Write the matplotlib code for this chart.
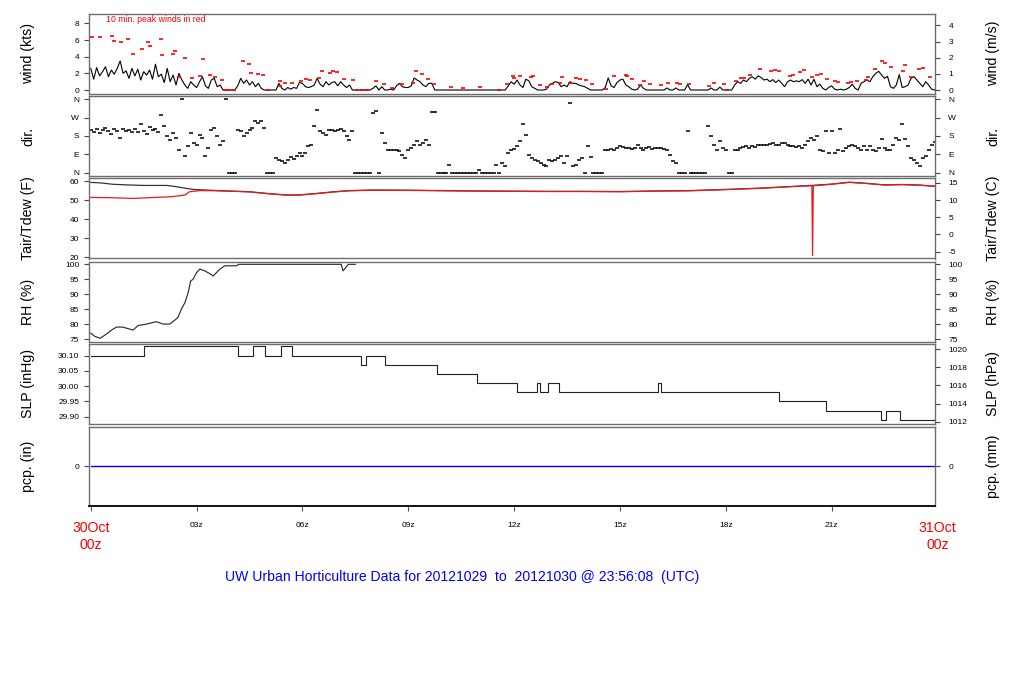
import numpy as np
import matplotlib.pyplot as plt

plt.rcParams['font.family'] = ['Liberation Sans', 'DejaVu Sans']
plt.rcParams['axes.unicode_minus'] = False

# ---- data (time in hours since 30Oct 00z) ----
# 5-minute mean wind (kts), 12 values per hour
wind_kts = [
    2.6, 1.3, 2.7, 1.7, 2.2, 2.8, 1.6, 2.4, 1.9, 2.6, 3.5, 2.0,
    2.3, 1.4, 2.6, 1.7, 2.5, 1.2, 2.2, 1.8, 2.4, 1.3, 3.1, 1.6,
    1.9, 0.9, 2.6, 1.0, 1.8, 0.6, 2.0, 1.2, 0.6, 0.2, 1.0, 0.6,
    0.3, 1.0, 1.6, 0.5, 0.2, 1.2, 1.4, 0.4, 0.6, 0.0, 0.0, 0.0,
    0.0, 0.0, 0.5, 1.4, 0.8, 1.2, 0.6, 1.0, 0.4, 0.8, 0.2, 0.0,
    0.0, 0.0, 0.0, 0.0, 0.8, 0.2, 0.0, 0.3, 0.1, 0.3, 0.2, 0.9,
    0.8, 0.4, 0.3, 0.4, 0.6, 1.4, 0.7, 0.4, 1.0, 0.6, 0.9, 1.0,
    0.5, 1.0, 0.6, 0.3, 0.6, 0.0, 0.0, 0.0, 0.0, 0.0, 0.0, 0.0,
    0.2, 0.5, 0.0, 0.4, 0.0, 0.0, 0.1, 0.0, 0.5, 0.8, 0.4, 0.3,
    0.3, 0.5, 1.45, 1.2, 1.0, 0.6, 0.4, 0.8, 0.8, 0.0, 0.0, 0.0,
    0.0, 0.0, 0.0, 0.0, 0.0, 0.0, 0.0, 0.0, 0.0, 0.0, 0.0, 0.0,
    0.0, 0.0, 0.0, 0.0, 0.0, 0.0, 0.0, 0.0, 0.0, 0.0, 0.5, 1.0,
    0.7, 1.2, 0.6, 0.3, 1.3, 1.1, 0.4, 0.2, 0.0, 0.0, 0.0, 0.1,
    0.6, 0.8, 1.0, 0.9, 0.4, 0.6, 0.4, 1.0, 0.8, 0.8, 0.6, 0.5,
    0.4, 0.2, 0.0, 0.0, 0.0, 0.0, 0.0, 0.3, 1.45, 0.5, 0.3, 0.9,
    1.2, 1.3, 0.6, 0.4, 0.1, 0.0, 0.1, 0.6, 0.2, 0.0, 0.0, 0.0,
    0.0, 0.0, 0.0, 0.0, 0.25, 0.0, 0.0, 0.25, 0.0, 0.0, 0.0, 0.65,
    0.0, 0.0, 0.0, 0.0, 0.0, 0.0, 0.0, 0.25, 0.0, 0.0, 0.35, 0.0,
    0.0, 0.0, 0.0, 0.6, 1.0, 0.8, 1.2, 1.0, 1.4, 1.6, 1.3, 1.7,
    1.5, 1.2, 1.3, 1.0, 1.25, 0.9, 1.2, 0.8, 0.4, 1.0, 1.2, 1.0,
    1.1, 1.0, 1.25, 0.8, 1.3, 0.6, 1.3, 0.4, 0.7, 0.2, 0.0, 0.3,
    0.5, 0.1, 0.0, 0.1, 0.0, 0.1, 0.3, 0.7, 0.2, 0.0, 0.8, 1.0,
    1.2, 1.0, 1.6, 2.0, 2.25, 1.8, 1.4, 1.65, 0.4, 0.2, 0.6, 1.85,
    0.3, 0.4, 0.6, 1.4, 1.6, 1.2, 0.8, 0.4, 1.0, 0.6, 0.1, 0.0,
]

# 5-minute wind direction (deg), 0 = calm / north
wind_dir = [
    208, 200, 214, 196, 210, 219, 203, 190, 212, 205, 170, 216,
    205, 210, 198, 212, 200, 240, 205, 190, 222, 208, 213, 200,
    283, 227, 178, 162, 194, 170, 113, 360, 81, 130, 194, 146,
    138, 186, 170, 81, 122, 211, 219, 178, 138, 154, 360, 0,
    0, 0, 211, 203, 178, 194, 211, 219, 251, 243, 251, 219,
    0, 0, 0, 73, 65, 57, 49, 65, 78, 70, 81, 97,
    81, 97, 130, 138, 227, 305, 203, 194, 186, 211, 211, 203,
    211, 214, 203, 178, 162, 203, 0, 0, 0, 0, 0, 0,
    292, 300, 0, 194, 146, 113, 113, 110, 110, 105, 89, 73,
    113, 122, 138, 154, 138, 146, 162, 138, 295, 295, 0, 0,
    0, 0, 40, 0, 0, 0, 0, 0, 0, 0, 0, 0,
    16, 0, 0, 0, 0, 0, 41, 0, 49, 32, 97, 113,
    116, 130, 154, 238, 186, 89, 73, 65, 57, 49, 41, 36,
    65, 57, 65, 73, 81, 49, 81, 340, 32, 41, 65, 73,
    0, 130, 78, 0, 0, 0, 0, 113, 113, 116, 113, 122,
    130, 127, 122, 122, 118, 122, 138, 122, 113, 122, 125, 118,
    122, 122, 122, 118, 113, 89, 57, 49, 0, 0, 0, 203,
    0, 0, 0, 0, 0, 0, 227, 178, 138, 113, 154, 122,
    113, 0, 0, 113, 110, 122, 127, 130, 122, 130, 127, 134,
    136, 138, 136, 143, 144, 138, 138, 144, 146, 134, 130, 130,
    127, 130, 122, 138, 154, 170, 162, 178, 113, 105, 206, 97,
    206, 97, 113, 214, 105, 122, 130, 138, 130, 122, 113, 130,
    113, 130, 110, 105, 122, 165, 122, 113, 110, 138, 170, 162,
    240, 165, 130, 73, 65, 49, 32, 73, 81, 113, 138, 150,
]

# 10-minute peak winds (kts)
peak_hr = [0.03, 0.26, 0.60, 0.67, 0.86, 1.05, 1.19, 1.45, 1.62, 1.67, 1.99, 2.01,
           2.32, 2.40, 2.50, 2.66, 2.86, 3.09, 3.18, 3.37, 3.51, 3.71, 3.80, 3.93,
           4.07, 4.31, 4.48, 4.54, 4.73, 4.87, 5.02, 5.36, 5.37, 5.50, 5.70, 5.95,
           6.10, 6.22, 6.46, 6.55, 6.78, 6.86, 6.97, 7.17, 7.43, 7.55, 7.69, 7.83,
           8.08, 8.31, 8.53, 8.82, 9.12, 9.21, 9.38, 9.55, 9.73, 10.20, 10.54, 11.03,
           11.56, 11.79, 11.96, 12.00, 12.16, 12.47, 12.54, 12.73, 12.92, 13.07, 13.30, 13.37,
           13.58, 13.75, 13.86, 14.03, 14.20, 14.60, 14.83, 15.17, 15.19, 15.34, 15.57, 15.68,
           15.85, 16.15, 16.36, 16.61, 16.70, 16.95, 17.51, 17.66, 17.95, 18.04, 18.29, 18.44,
           18.52, 18.70, 18.97, 19.27, 19.40, 19.50, 19.82, 19.91, 20.10, 20.21, 20.44, 20.58,
           20.71, 20.86, 21.09, 21.18, 21.46, 21.56, 21.71, 21.97, 22.03, 22.24, 22.43, 22.50,
           22.67, 23.01, 23.07, 23.26, 23.48, 23.60, 23.79]
peak_kts = [6.39, 6.39, 6.47, 5.86, 5.74, 6.14, 4.30, 4.94, 5.74, 5.34, 6.14, 4.18,
            4.30, 4.74, 1.53, 3.81, 1.41, 1.69, 3.69, 1.77, 1.53, 1.16, 0.0, 0.0,
            0.0, 3.45, 3.09, 2.01, 1.89, 1.77, 0.0, 1.04, 0.52, 0.80, 0.80, 1.04,
            1.37, 1.20, 1.41, 2.25, 2.01, 2.25, 2.13, 1.29, 1.16, 0.0, 0.0, 0.0,
            1.04, 0.76, 0.20, 0.76, 0.88, 2.33, 1.97, 1.29, 0.76, 0.32, 0.20, 0.32,
            0.04, 0.76, 1.65, 1.41, 1.65, 1.53, 1.65, 0.56, 0.32, 0.76, 0.88, 1.53,
            0.88, 1.41, 1.29, 1.16, 0.76, 0.08, 1.65, 1.85, 1.65, 1.29, 0.56, 1.04,
            0.76, 0.60, 0.80, 0.80, 0.68, 0.76, 0.44, 0.80, 0.76, 0.04, 1.04, 1.41,
            1.41, 1.85, 2.53, 2.25, 2.37, 2.25, 1.69, 1.81, 2.13, 2.37, 1.53, 1.77,
            1.89, 1.37, 1.04, 0.92, 0.80, 0.92, 1.04, 1.16, 1.53, 2.57, 3.45, 3.21,
            2.77, 2.25, 2.97, 1.53, 2.49, 2.61, 1.53]

# air temperature (F)
tair_hr = [0.0, 0.3, 0.63, 1.0, 1.5, 2.15, 2.3, 2.7, 2.9, 3.6, 4.5, 5.0, 5.55, 5.9,
           6.4, 6.9, 7.35, 8.0, 9.0, 10.0, 11.0, 12.0, 13.0, 14.0, 15.0, 16.0, 17.0,
           18.0, 19.0, 20.0, 20.5, 21.0, 21.5, 22.0, 22.5, 23.0, 23.5, 23.93]
tair_f = [59.3, 59.0, 58.3, 58.0, 57.7, 57.7, 57.4, 56.2, 55.6, 55.0, 54.4, 53.5, 52.7, 52.7,
          53.5, 54.4, 55.0, 55.3, 55.2, 55.0, 54.8, 54.7, 54.6, 54.6, 54.5, 54.8, 55.0,
          55.6, 56.3, 57.3, 57.8, 58.4, 59.4, 58.8, 58.0, 58.2, 57.9, 57.3]
# dew point (F)
tdew_hr = [0.0, 0.5, 1.2, 1.8, 2.3, 2.67, 2.8, 3.1, 3.6, 4.5, 5.0, 5.55, 5.9,
           6.4, 6.9, 7.35, 8.0, 9.0, 10.0, 11.0, 12.0, 13.0, 14.0, 15.0, 16.0, 17.0,
           18.0, 19.0, 20.0, 20.44, 20.46, 20.48, 21.0, 21.5, 22.0, 22.5, 23.0, 23.5, 23.93]
tdew_f = [51.4, 51.3, 50.9, 51.4, 51.8, 52.7, 54.4, 55.0, 54.9, 54.3, 53.4, 52.6, 52.6,
          53.4, 54.3, 54.9, 55.2, 55.1, 54.9, 54.7, 54.6, 54.5, 54.5, 54.4, 54.7, 54.9,
          55.5, 56.2, 57.2, 57.5, 21.0, 57.5, 58.3, 59.3, 58.7, 57.9, 58.1, 57.8, 57.2]

# relative humidity (%)
rh_hr = [0.0, 0.1, 0.2, 0.26, 0.45, 0.59, 0.73, 0.9, 1.2, 1.34, 1.58, 1.86, 2.05, 2.24,
         2.38, 2.47, 2.57, 2.67, 2.76, 2.83, 2.9, 3.0, 3.09, 3.23, 3.37, 3.47, 3.66, 3.8,
         4.13, 4.2, 7.1, 7.15, 7.2, 7.3, 7.5]
rh_pct = [77.0, 76.0, 75.5, 75.2, 76.7, 78.0, 79.0, 79.0, 78.0, 79.5, 80.0, 80.8, 80.0, 80.0,
          81.3, 82.2, 85.0, 87.2, 90.5, 94.4, 95.0, 97.2, 98.4, 97.8, 96.9, 96.1, 98.4, 99.5,
          99.5, 100.0, 100.0, 97.8, 98.5, 100.0, 100.0]

# sea level pressure (inHg), step changes
slp_hr = [0.0, 1.50, 4.18, 4.60, 4.93, 5.39, 5.71, 7.65, 7.80, 8.34, 9.82, 10.94, 12.09,
          12.65, 12.73, 12.95, 13.27, 16.09, 16.15, 19.52, 20.84, 22.40, 22.54, 22.94, 23.93]
slp_inhg = [30.10, 30.13, 30.10, 30.13, 30.10, 30.13, 30.10, 30.07, 30.10, 30.07, 30.04,
            30.01, 29.98, 30.01, 29.98, 30.01, 29.98, 30.01, 29.98, 29.95, 29.92, 29.89,
            29.92, 29.89, 29.89]

# precipitation (in)
pcp_hr = [0.0, 23.93]
pcp_in = [0.0, 0.0]

hour_ticks = [0, 3, 6, 9, 12, 15, 18, 21]
hour_labels = ['', '03z', '06z', '09z', '12z', '15z', '18z', '21z']

# ---- layout ----
W, H = 1024, 700
fig = plt.figure(figsize=(W / 100, H / 100), dpi=100)

x0, x1 = 89, 935
panels = [(13.5, 93.5), (96, 176), (178, 258.5), (261.7, 341.7), (344, 423.5), (426.5, 506)]
frame_col = '#6e6e6e'
tick_fs = 6.0
lab_fs = 10.2


def make_ax(top, bot):
    ax = fig.add_axes([x0 / W, 1 - bot / H, (x1 - x0) / W, (bot - top) / H])
    ax.set_xlim(-0.05, 23.93)
    for s in ax.spines.values():
        s.set_color(frame_col)
        s.set_linewidth(1.0)
    ax.tick_params(axis='y', labelsize=tick_fs, length=3.6, width=0.8, pad=3.5, color='#444444')
    ax.tick_params(axis='x', bottom=False, labelbottom=False)
    ax2 = ax.twinx()
    ax2.tick_params(axis='y', labelsize=tick_fs, length=3.6, width=0.8, pad=6, color='#444444')
    for s in ax2.spines.values():
        s.set_visible(False)
    return ax, ax2


def side_labels(top, bot, left, right):
    yc = 1 - (top + bot) / 2 / H
    fig.text(28 / W, yc, left, rotation=90, ha='center', va='center', fontsize=lab_fs)
    fig.text(993 / W, yc, right, rotation=90, ha='center', va='center', fontsize=lab_fs)


# wind
top, bot = panels[0]
ax, ax2 = make_ax(top, bot)
hrs = np.arange(len(wind_kts)) / 12.0
ax.plot(hrs, wind_kts, color='black', lw=0.8)
ax.plot(peak_hr, peak_kts, ls='none', marker='_', ms=2.2, mew=1.2, color='red')
ax.set_ylim(-0.42, 9.2)
ax.set_yticks([0, 2, 4, 6, 8])
ax2.set_ylim(-0.42 * 0.5144, 9.2 * 0.5144)
ax2.set_yticks([0, 1, 2, 3, 4])
ax.text(0.02, 0.92, '10 min. peak winds in red', transform=ax.transAxes, color='red',
        fontsize=6.3, ha='left', va='center')
side_labels(top, bot, 'wind (kts)', 'wind (m/s)')

# direction
top, bot = panels[1]
ax, ax2 = make_ax(top, bot)
ax.plot(hrs, wind_dir, ls='none', marker='_', ms=2.2, mew=1.1, color='black')
ax.set_ylim(-14.6, 374.6)
ax.set_yticks([0, 90, 180, 270, 360])
ax.set_yticklabels(['N', 'E', 'S', 'W', 'N'])
ax2.set_ylim(-14.6, 374.6)
ax2.set_yticks([0, 90, 180, 270, 360])
ax2.set_yticklabels(['N', 'E', 'S', 'W', 'N'])
side_labels(top, bot, 'dir.', 'dir.')

# temperature
top, bot = panels[2]
ax, ax2 = make_ax(top, bot)
ax.plot(tair_hr, tair_f, color='#333333', lw=0.9)
ax.plot(tdew_hr, tdew_f, color='#e8191c', lw=0.9)
ax.set_ylim(19.4, 61.6)
ax.set_yticks([20, 30, 40, 50, 60])
ax2.set_ylim((19.4 - 32) * 5 / 9, (61.6 - 32) * 5 / 9)
ax2.set_yticks([-5, 0, 5, 10, 15])
side_labels(top, bot, 'Tair/Tdew (F)', 'Tair/Tdew (C)')

# relative humidity
top, bot = panels[3]
ax, ax2 = make_ax(top, bot)
ax.plot(rh_hr, rh_pct, color='#222222', lw=0.8)
ax.set_ylim(74.1, 100.87)
ax.set_yticks([75, 80, 85, 90, 95, 100])
ax2.set_ylim(74.1, 100.87)
ax2.set_yticks([75, 80, 85, 90, 95, 100])
side_labels(top, bot, 'RH (%)', 'RH (%)')

# pressure
top, bot = panels[4]
ax, ax2 = make_ax(top, bot)
ax.plot(slp_hr, slp_inhg, color='#222222', lw=0.8, drawstyle='steps-post')
ax.set_ylim(29.878, 30.138)
ax.set_yticks([29.90, 29.95, 30.00, 30.05, 30.10])
ax.set_yticklabels(['%.2f' % v for v in [29.90, 29.95, 30.00, 30.05, 30.10]])
ax2.set_ylim(29.878 * 33.8639, 30.138 * 33.8639)
ax2.set_yticks([1012, 1014, 1016, 1018, 1020])
side_labels(top, bot, 'SLP (inHg)', 'SLP (hPa)')

# precipitation
top, bot = panels[5]
ax, ax2 = make_ax(top, bot)
ax.plot(pcp_hr, pcp_in, color='blue', lw=1.0)
ax.set_ylim(-1, 1)
ax.set_yticks([0])
ax2.set_ylim(-25.4, 25.4)
ax2.set_yticks([0])
ax.spines['bottom'].set_color('black')
ax.spines['bottom'].set_linewidth(1.3)
ax.tick_params(axis='x', bottom=True, labelbottom=True, labelsize=tick_fs,
               length=3.6, width=0.8, pad=8, color='#555555')
ax.set_xticks(hour_ticks)
ax.set_xticklabels(hour_labels)
side_labels(top, bot, 'pcp. (in)', 'pcp. (mm)')

for xh, day in [(0, '30Oct'), (24, '31Oct')]:
    xp = (91 + xh * 35.27) / W
    fig.text(xp, 1 - 527.5 / H, day, color='red', fontsize=10.2, ha='center', va='center')
    fig.text(xp, 1 - 545 / H, '00z', color='red', fontsize=10.2, ha='center', va='center')

fig.text(462.5 / W, 1 - 577 / H,
         'UW Urban Horticulture Data for 20121029  to  20121030 @ 23:56:08  (UTC)',
         color='blue', fontsize=10.05, ha='center', va='center')

fig.savefig('out.png', dpi=100)
